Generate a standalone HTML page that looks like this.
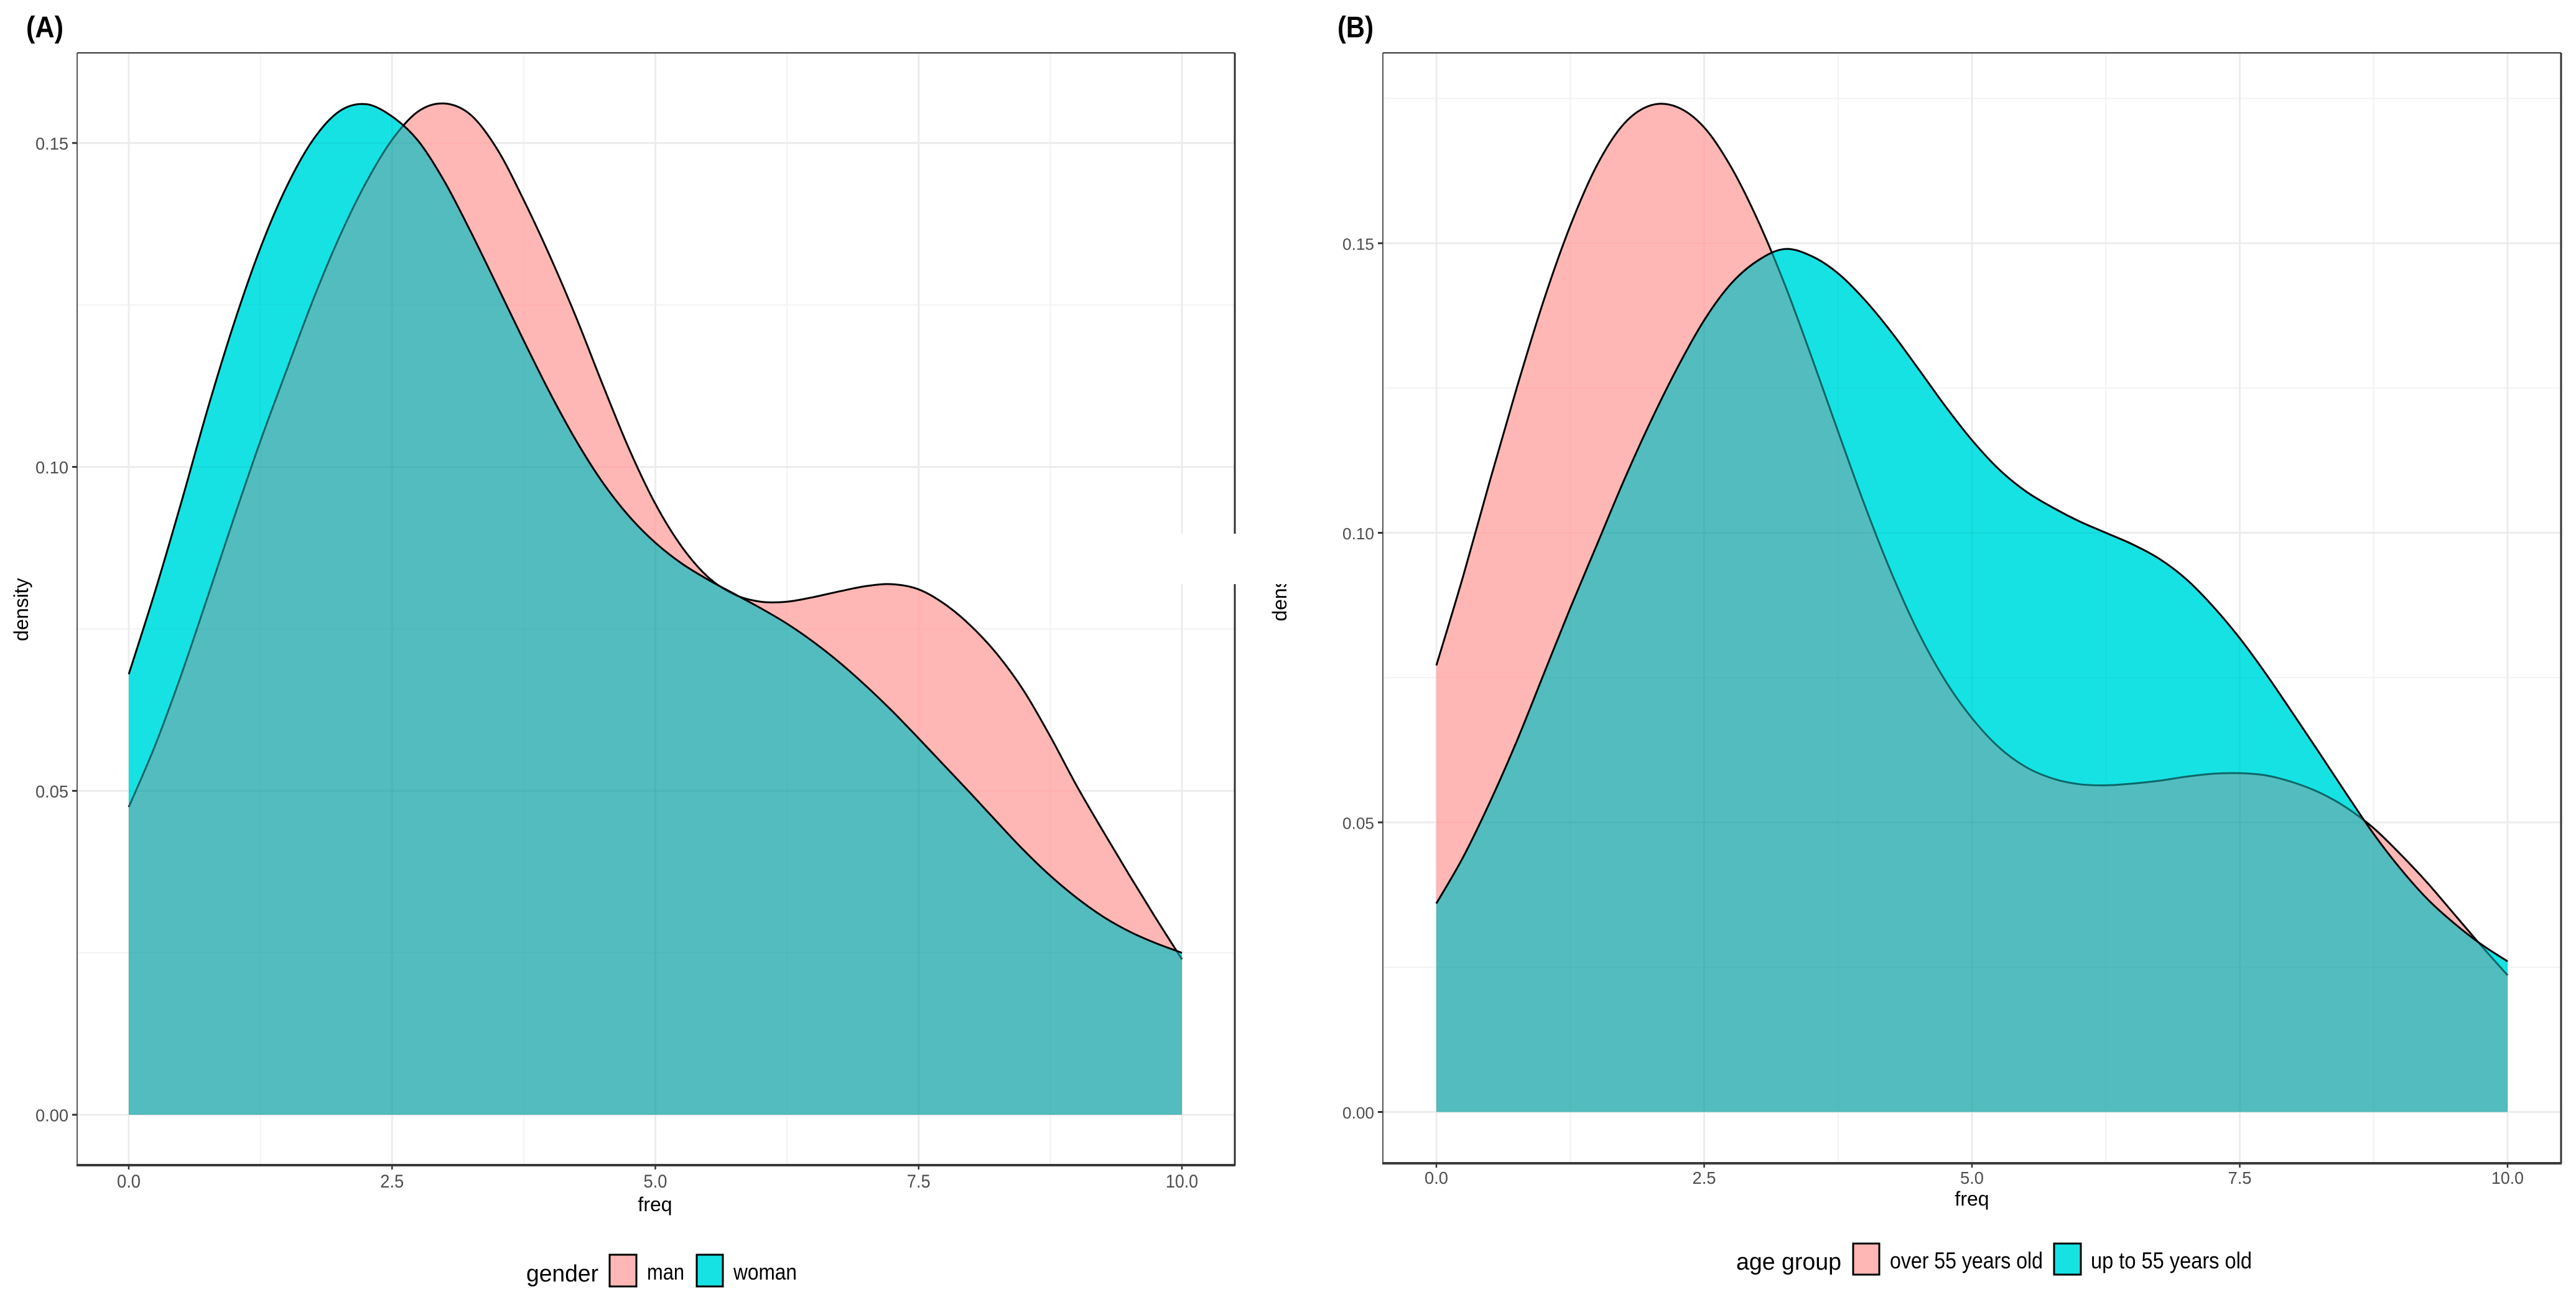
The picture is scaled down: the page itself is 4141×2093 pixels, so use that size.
<!DOCTYPE html>
<html lang="en">
<head>
<meta charset="utf-8">
<title>Density of freq by gender and age group</title>
<style>
html,body{margin:0;padding:0;background:#fff;width:4141px;height:2093px;overflow:hidden}
svg{display:block;font-family:"Liberation Sans",Arial,sans-serif}
</style>
</head>
<body>
<svg id="chart" xmlns="http://www.w3.org/2000/svg" width="4141" height="2093" viewBox="0 0 4141 2093">
  <rect x="0" y="0" width="4141" height="2093" fill="#ffffff"/>
  <g id="panel-a"></g>
  <g id="panel-b"></g>

  <text x="42" y="60" font-size="48" font-weight="bold" textLength="60" lengthAdjust="spacingAndGlyphs" fill="#000">(A)</text>
  <text x="2150" y="60" font-size="48" font-weight="bold" textLength="58" lengthAdjust="spacingAndGlyphs" fill="#000">(B)</text>

  <text x="1053" y="1947" font-size="32" text-anchor="middle" fill="#000">freq</text>
  <text x="3170" y="1938" font-size="32" text-anchor="middle" fill="#000">freq</text>
  <text transform="translate(45 980) rotate(-90)" font-size="32" text-anchor="middle" fill="#000">density</text>
  <text transform="translate(2068 948) rotate(-90)" font-size="32" text-anchor="middle" fill="#000">density</text>

  <g>
    <text x="846" y="2060" font-size="38" textLength="116" lengthAdjust="spacingAndGlyphs" fill="#000">gender</text>
    <rect x="980" y="2017" width="43" height="51" fill="#ffb7b5" stroke="#000" stroke-width="3"/>
    <text x="1040" y="2057" font-size="36" textLength="60" lengthAdjust="spacingAndGlyphs" fill="#000">man</text>
    <rect x="1120" y="2017" width="42" height="51" fill="#17e2e3" stroke="#000" stroke-width="3"/>
    <text x="1179" y="2057" font-size="36" textLength="102" lengthAdjust="spacingAndGlyphs" fill="#000">woman</text>
  </g>

  <g>
    <text x="2791" y="2041" font-size="38" textLength="169" lengthAdjust="spacingAndGlyphs" fill="#000">age group</text>
    <rect x="2979" y="1999" width="42" height="50" fill="#ffb7b5" stroke="#000" stroke-width="3"/>
    <text x="3038" y="2039" font-size="37" textLength="246" lengthAdjust="spacingAndGlyphs" fill="#000">over 55 years old</text>
    <rect x="3302" y="1999" width="43" height="50" fill="#17e2e3" stroke="#000" stroke-width="3"/>
    <text x="3361" y="2039" font-size="37" textLength="259" lengthAdjust="spacingAndGlyphs" fill="#000">up to 55 years old</text>
  </g>

  <rect x="1894" y="858" width="216" height="81" fill="#ffffff"/>
</svg>
<script>
const freqGrid = [0,0.25,0.5,0.75,1,1.25,1.5,1.75,2,2.25,2.5,2.75,3,3.25,3.5,3.75,4,4.25,4.5,4.75,5,5.25,5.5,5.75,6,6.25,6.5,6.75,7,7.25,7.5,7.75,8,8.25,8.5,8.75,9,9.25,9.5,9.75,10];
const manDensity = [.0475,.0570,.0680,.0800,.0922,.1040,.1150,.1258,.1355,.1438,.1505,.1549,.1561,.1543,.1490,.1412,.1325,.1230,.1127,.1028,.0943,.0877,.0830,.0803,.0792,.0792,.0799,.0808,.0816,.0819,.0811,.0788,.0754,.0710,.0654,.0584,.0508,.0438,.0370,.0304,.0240];
const womanDensity = [.0680,.0808,.0946,.1090,.1222,.1338,.1433,.1505,.1549,.1560,.1541,.1503,.1440,.1362,.1279,.1195,.1114,.1040,.0976,.0924,.0883,.0851,.0826,.0804,.0782,.0758,.0730,.0698,.0662,.0623,.0581,.0538,.0495,.0451,.0408,.0369,.0335,.0306,.0283,.0265,.0250];
const over55Density = [.0771,.0925,.1090,.1250,.1400,.1530,.1635,.1706,.1738,.1735,.1700,.1632,.1540,.1430,.1305,.1175,.1047,.0930,.0828,.0745,.0680,.0630,.0596,.0576,.0566,.0564,.0567,.0572,.0579,.0584,.0585,.0581,.0569,.0551,.0525,.0490,.0445,.0396,.0342,.0288,.0236];
const upTo55Density = [.0360,.0440,.0535,.0640,.0755,.0870,.0980,.1090,.1192,.1285,.1367,.1430,.1470,.1490,.1478,.1448,.1402,.1346,.1283,.1219,.1160,.1110,.1072,.1044,.1020,.1000,.0980,.0955,.0920,.0873,.0818,.0755,.0687,.0618,.0548,.0480,.0420,.0368,.0326,.0290,.0260];
const xTickValues = [0,2.5,5,7.5,10];
const xTickLabels = ['0.0','2.5','5.0','7.5','10.0'];
const xMinorValues = [1.25,3.75,6.25,8.75];
const yTickValues = [0,0.05,0.1,0.15];
const yTickLabels = ['0.00','0.05','0.10','0.15'];
const yMinorValuesA = [0.025,0.075,0.125];
const yMinorValuesB = [0.025,0.075,0.125,0.175];

const NS = 'http://www.w3.org/2000/svg';
const svgRoot = document.getElementById('chart');

function make(parent, tag, attrs) {
  const el = document.createElementNS(NS, tag);
  for (const k in attrs) el.setAttribute(k, attrs[k]);
  parent.appendChild(el);
  return el;
}

function curvePath(xs, ys) {
  let d = 'M' + xs[0].toFixed(2) + ',' + ys[0].toFixed(2);
  for (let i = 0; i < xs.length - 1; i++) {
    const i0 = Math.max(i - 1, 0), i3 = Math.min(i + 2, xs.length - 1);
    const c1x = xs[i] + (xs[i + 1] - xs[i0]) / 6, c1y = ys[i] + (ys[i + 1] - ys[i0]) / 6;
    const c2x = xs[i + 1] - (xs[i3] - xs[i]) / 6, c2y = ys[i + 1] - (ys[i3] - ys[i]) / 6;
    d += 'C' + c1x.toFixed(2) + ',' + c1y.toFixed(2) + ' ' + c2x.toFixed(2) + ',' + c2y.toFixed(2) + ' ' + xs[i + 1].toFixed(2) + ',' + ys[i + 1].toFixed(2);
  }
  return d;
}

function drawGridLines(parent, cfg, sx, sy, yMinor, colorMajor, colorMinor, clip) {
  const g = make(parent, 'g', clip ? {'clip-path': 'url(#' + clip + ')'} : {});
  
  
  yMinor.forEach(function (v) {
    const l = make(g, 'line', {x1: cfg.left, x2: cfg.right, y1: sy(v), y2: sy(v), stroke: colorMinor, 'stroke-width': 2});
    
    
  });
  xMinorValues.forEach(function (v) {
    const l = make(g, 'line', {x1: sx(v), x2: sx(v), y1: cfg.top, y2: cfg.bottom, stroke: colorMinor, 'stroke-width': 2});
    
    
  });
  yTickValues.forEach(function (v) {
    const l = make(g, 'line', {x1: cfg.left, x2: cfg.right, y1: sy(v), y2: sy(v), stroke: colorMajor, 'stroke-width': 3});
    
    
  });
  xTickValues.forEach(function (v) {
    const l = make(g, 'line', {x1: sx(v), x2: sx(v), y1: cfg.top, y2: cfg.bottom, stroke: colorMajor, 'stroke-width': 3});
    
    
  });
}

function drawPanel(cfg) {
  const root = document.getElementById(cfg.id);
  const sx = function (v) { return cfg.x0 + (cfg.x10 - cfg.x0) * v / 10; };
  const sy = function (v) { return cfg.y0 - cfg.yScale * v; };
  const xs = freqGrid.map(sx);
  const lowerLine = curvePath(xs, cfg.lower.map(sy));
  const upperLine = curvePath(xs, cfg.upper.map(sy));
  const tail = 'L' + sx(10) + ',' + sy(0) + 'L' + sx(0) + ',' + sy(0) + 'Z';
  const lowerArea = lowerLine + tail;
  const upperArea = upperLine + tail;

  const defs = make(root, 'defs', {});
  make(make(defs, 'clipPath', {id: cfg.id + '-lower-clip'}), 'path', {d: lowerArea});
  make(make(defs, 'clipPath', {id: cfg.id + '-upper-clip'}), 'path', {d: upperArea});

  drawGridLines(root, cfg, sx, sy, cfg.yMinor, '#ececec', '#f2f2f2', null);

  const lowerFill = make(root, 'path', {d: lowerArea, fill: '#ffb7b5'});
  
  

  drawGridLines(root, cfg, sx, sy, cfg.yMinor, 'rgba(255,100,100,0.08)', 'rgba(255,100,100,0.05)', cfg.id + '-lower-clip');

  const lowerStroke = make(root, 'path', {d: lowerLine, fill: 'none', stroke: '#000', 'stroke-width': 3});
  
  

  const upperFill = make(root, 'path', {d: upperArea, fill: '#17e2e3'});
  
  

  const overlap = make(root, 'path', {d: upperArea, fill: '#53bcbe', 'clip-path': 'url(#' + cfg.id + '-lower-clip)'});
  
  

  drawGridLines(root, cfg, sx, sy, cfg.yMinor, 'rgba(0,130,130,0.09)', 'rgba(0,130,130,0.05)', cfg.id + '-upper-clip');

  const tealLine = make(root, 'path', {d: lowerLine, fill: 'none', stroke: '#0d6668', 'stroke-width': 3, 'clip-path': 'url(#' + cfg.id + '-upper-clip)'});
  
  

  const upperStroke = make(root, 'path', {d: upperLine, fill: 'none', stroke: '#000', 'stroke-width': 3});
  
  

  const leftB = make(root, 'line', {x1: cfg.left, x2: cfg.left, y1: cfg.top, y2: cfg.bottom, stroke: '#555', 'stroke-width': 2});
  
  
  const topB = make(root, 'line', {x1: cfg.left, x2: cfg.right, y1: cfg.top, y2: cfg.top, stroke: '#333', 'stroke-width': 2});
  
  
  const rightB = make(root, 'line', {x1: cfg.right, x2: cfg.right, y1: cfg.top, y2: cfg.bottom, stroke: '#333', 'stroke-width': 3});
  
  
  const bottomB = make(root, 'line', {x1: cfg.left - 1, x2: cfg.right + 1, y1: cfg.bottom, y2: cfg.bottom, stroke: '#3a3a3a', 'stroke-width': 4});
  
  

  xTickValues.forEach(function (v, i) {
    const t = make(root, 'line', {x1: sx(v), x2: sx(v), y1: cfg.bottom, y2: cfg.bottom + 7, stroke: '#333', 'stroke-width': 2.5});
    
    
    const label = make(root, 'text', {x: sx(v), y: cfg.xLabelY, 'font-size': cfg.xFont, 'text-anchor': 'middle', fill: '#4d4d4d', textLength: xTickLabels[i].length > 3 ? 52 : 38, lengthAdjust: 'spacingAndGlyphs'});
    label.textContent = xTickLabels[i];
    
    
  });
  yTickValues.forEach(function (v, i) {
    const t = make(root, 'line', {x1: cfg.left - 8, x2: cfg.left, y1: sy(v), y2: sy(v), stroke: '#333', 'stroke-width': 3});
    
    
    const label = make(root, 'text', {x: cfg.left - 14, y: sy(v) + 10.5, 'font-size': cfg.yFont, 'text-anchor': 'end', fill: '#4d4d4d', textLength: cfg.yLabelWidth, lengthAdjust: 'spacingAndGlyphs'});
    label.textContent = yTickLabels[i];
    
    
  });
}

drawPanel({id: 'panel-a', x0: 207, x10: 1900, y0: 1792, yScale: 10414, left: 124, right: 1985, top: 85, bottom: 1873,
  lower: manDensity, upper: womanDensity, lowerName: 'man', upperName: 'woman', yMinor: yMinorValuesA,
  xLabelY: 1909, xFont: 30, yFont: 28, yLabelWidth: 53});
drawPanel({id: 'panel-b', x0: 2309, x10: 4031, y0: 1787.5, yScale: 9310, left: 2223, right: 4117, top: 85, bottom: 1870,
  lower: over55Density, upper: upTo55Density, lowerName: 'over-55', upperName: 'up-to-55', yMinor: yMinorValuesB,
  xLabelY: 1903, xFont: 28, yFont: 26, yLabelWidth: 51});
</script>
</body>
</html>
